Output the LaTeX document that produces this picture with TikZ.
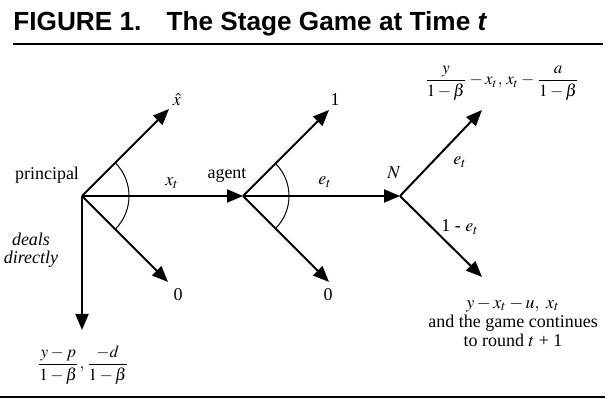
\documentclass[tikz,border=0pt]{standalone}
\usepackage{amsmath}
\usepackage{mathptmx}
\usepackage{fontspec}
\setmainfont{Liberation Serif}
\setsansfont{Liberation Sans}
\usetikzlibrary{arrows.meta}

\begin{document}
\begin{tikzpicture}[x=0.5pt, y=-0.5pt,
  branch/.style={-{Triangle[length=8pt,width=6.5pt]}, line width=1pt},
  lbl/.style={font=\fontsize{9}{10}\selectfont, inner sep=0pt},
  pay/.style={font=\fontsize{8.5}{10}\selectfont, inner sep=0pt, align=center},
  angarc/.style={line width=0.5pt},
  rule/.style={line width=1.4pt},
]
  \useasboundingbox (0,0) rectangle (615,399);

  % Title and rules
  \node[anchor=base west, inner sep=0pt, font=\sffamily\bfseries\fontsize{13.1}{15}\selectfont]
    (title) at (13,31) {FIGURE 1.\hspace{12.5pt}The Stage Game at Time \textit{t}};
  \coordinate (tl) at (13,44);
  \coordinate (tr) at (603,44);
  \draw[rule] (tl) -- (tr);
  \coordinate (bl) at (0,397);
  \coordinate (br) at (605,397);
  \draw[line width=1pt] (bl) -- (br);

  % Decision points
  \coordinate (P) at (82,196);
  \coordinate (A) at (243,196);
  \coordinate (N) at (400,196);

  % Branch ends
  \coordinate (Pup) at (169,109);
  \coordinate (Pdn) at (168,282);
  \coordinate (Pdd) at (82,330);
  \coordinate (Aup) at (329,110);
  \coordinate (Adn) at (329,282);
  \coordinate (Nup) at (482,110);
  \coordinate (Ndn) at (482,277);

  % Branches
  \draw[branch] (P) -- (Pup);
  \draw[branch] (P) -- (Pdn);
  \draw[branch] (P) -- (Pdd);
  \draw[branch] (P) -- (A);
  \draw[branch] (A) -- (Aup);
  \draw[branch] (A) -- (Adn);
  \draw[branch] (A) -- (N);
  \draw[branch] (N) -- (Nup);
  \draw[branch] (N) -- (Ndn);

  % Choice arcs
  \draw[angarc] ([shift={(45:23.5pt)}]P) arc[start angle=45, end angle=-45, radius=23.5pt];
  \draw[angarc] ([shift={(45:23pt)}]A) arc[start angle=45, end angle=-45, radius=23pt];

  % Labels
  \node[lbl] (principal) at (47,175) {principal};
  \node[lbl] (agent) at (227,175) {agent};
  \node[lbl] (nature) at (394,173) {$N$};
  \node[lbl] (xhat) at (177,100) {$\hat{x}$};
  \node[lbl] (xt) at (172,183) {$x_t$};
  \node[lbl] (zeroP) at (178,295) {0};
  \node[lbl, font=\fontsize{9}{10}\selectfont\itshape, align=center] (deals) at (31,250)
    {deals\\[-1pt]directly};
  \node[lbl] (one) at (335,100) {1};
  \node[lbl] (zeroA) at (328,295) {0};
  \node[lbl] (et) at (325,182) {$e_t$};
  \node[lbl] (etN) at (460,162) {$e_t$};
  \node[lbl] (oneet) at (460,227) {1 - $e_t$};

  % Payoffs
  \node[pay] (payD) at (83,365) {$\dfrac{y-p}{1-\beta},\dfrac{-d}{1-\beta}$};
  \node[pay] (payS) at (502,83) {$\dfrac{y}{1-\beta}-x_t,\,x_t-\dfrac{a}{1-\beta}$};
  \node[pay, font=\fontsize{9}{9.5}\selectfont] (payF) at (513,322)
    {$y-x_t-u,\ x_t$\\and the game continues\\to round $t$ + 1};
\end{tikzpicture}
\end{document}
